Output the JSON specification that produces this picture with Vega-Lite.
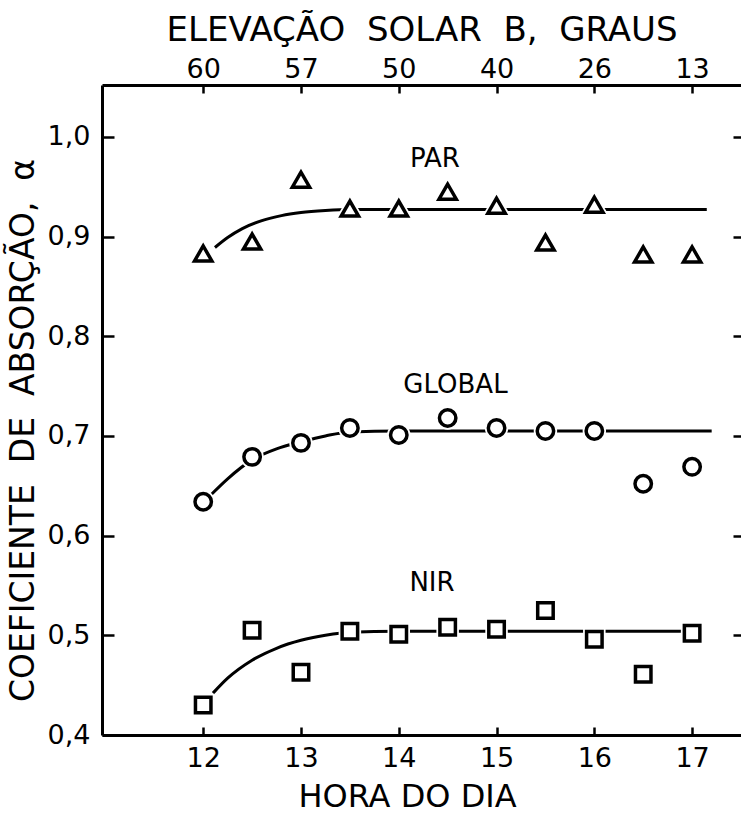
{
  "$schema": "https://vega.github.io/schema/vega-lite/v6.json",
  "width": 639,
  "height": 650,
  "autosize": {"type": "none"},
  "padding": {"left": 102, "top": 85, "right": 0, "bottom": 81},
  "background": "white",
  "config": {
    "view": {"stroke": null},
    "font": "DejaVu Sans",
    "axis": {"grid": false, "domainColor": "black", "tickColor": "black", "labelColor": "black", "titleColor": "black", "labelFont": "DejaVu Sans", "titleFont": "DejaVu Sans", "titleFontWeight": "normal", "domainWidth": 3, "tickWidth": 2.5}
  },
  "resolve": {"axis": {"x": "independent", "y": "independent"}},
  "datasets": {
    "obs": [
      {"series": "PAR", "h": 12.0, "v": 0.883},
      {"series": "PAR", "h": 12.5, "v": 0.895},
      {"series": "PAR", "h": 13.0, "v": 0.957},
      {"series": "PAR", "h": 13.5, "v": 0.928},
      {"series": "PAR", "h": 14.0, "v": 0.928},
      {"series": "PAR", "h": 14.5, "v": 0.945},
      {"series": "PAR", "h": 15.0, "v": 0.931},
      {"series": "PAR", "h": 15.5, "v": 0.894},
      {"series": "PAR", "h": 16.0, "v": 0.932},
      {"series": "PAR", "h": 16.5, "v": 0.882},
      {"series": "PAR", "h": 17.0, "v": 0.882},
      {"series": "GLOBAL", "h": 12.0, "v": 0.634},
      {"series": "GLOBAL", "h": 12.5, "v": 0.679},
      {"series": "GLOBAL", "h": 13.0, "v": 0.693},
      {"series": "GLOBAL", "h": 13.5, "v": 0.708},
      {"series": "GLOBAL", "h": 14.0, "v": 0.701},
      {"series": "GLOBAL", "h": 14.5, "v": 0.718},
      {"series": "GLOBAL", "h": 15.0, "v": 0.708},
      {"series": "GLOBAL", "h": 15.5, "v": 0.705},
      {"series": "GLOBAL", "h": 16.0, "v": 0.705},
      {"series": "GLOBAL", "h": 16.5, "v": 0.652},
      {"series": "GLOBAL", "h": 17.0, "v": 0.669},
      {"series": "NIR", "h": 12.0, "v": 0.43},
      {"series": "NIR", "h": 12.5, "v": 0.505},
      {"series": "NIR", "h": 13.0, "v": 0.463},
      {"series": "NIR", "h": 13.5, "v": 0.504},
      {"series": "NIR", "h": 14.0, "v": 0.501},
      {"series": "NIR", "h": 14.5, "v": 0.508},
      {"series": "NIR", "h": 15.0, "v": 0.506},
      {"series": "NIR", "h": 15.5, "v": 0.525},
      {"series": "NIR", "h": 16.0, "v": 0.496},
      {"series": "NIR", "h": 16.5, "v": 0.461},
      {"series": "NIR", "h": 17.0, "v": 0.502}
    ],
    "fit": [
      {"series": "PAR", "h": 12.12, "v": 0.889},
      {"series": "PAR", "h": 12.25, "v": 0.899},
      {"series": "PAR", "h": 12.4, "v": 0.908},
      {"series": "PAR", "h": 12.6, "v": 0.916},
      {"series": "PAR", "h": 12.8, "v": 0.921},
      {"series": "PAR", "h": 13.0, "v": 0.924},
      {"series": "PAR", "h": 13.25, "v": 0.926},
      {"series": "PAR", "h": 13.5, "v": 0.927},
      {"series": "PAR", "h": 14.0, "v": 0.927},
      {"series": "PAR", "h": 15.0, "v": 0.927},
      {"series": "PAR", "h": 16.0, "v": 0.927},
      {"series": "PAR", "h": 17.15, "v": 0.927},
      {"series": "GLOBAL", "h": 12.08, "v": 0.641},
      {"series": "GLOBAL", "h": 12.25, "v": 0.657},
      {"series": "GLOBAL", "h": 12.5, "v": 0.676},
      {"series": "GLOBAL", "h": 12.75, "v": 0.687},
      {"series": "GLOBAL", "h": 13.0, "v": 0.694},
      {"series": "GLOBAL", "h": 13.25, "v": 0.7},
      {"series": "GLOBAL", "h": 13.5, "v": 0.704},
      {"series": "GLOBAL", "h": 14.0, "v": 0.705},
      {"series": "GLOBAL", "h": 15.0, "v": 0.705},
      {"series": "GLOBAL", "h": 16.0, "v": 0.705},
      {"series": "GLOBAL", "h": 17.2, "v": 0.705},
      {"series": "NIR", "h": 12.1, "v": 0.442},
      {"series": "NIR", "h": 12.25, "v": 0.457},
      {"series": "NIR", "h": 12.5, "v": 0.475},
      {"series": "NIR", "h": 12.75, "v": 0.487},
      {"series": "NIR", "h": 13.0, "v": 0.495},
      {"series": "NIR", "h": 13.25, "v": 0.5},
      {"series": "NIR", "h": 13.5, "v": 0.503},
      {"series": "NIR", "h": 14.0, "v": 0.504},
      {"series": "NIR", "h": 15.0, "v": 0.504},
      {"series": "NIR", "h": 16.0, "v": 0.504},
      {"series": "NIR", "h": 17.0, "v": 0.504}
    ],
    "labels": [
      {"t": "PAR", "h": 14.37, "v": 0.978},
      {"t": "GLOBAL", "h": 14.58, "v": 0.751},
      {"t": "NIR", "h": 14.34, "v": 0.552}
    ]
  },
  "layer": [
    {
      "data": {"name": "fit"},
      "mark": {"type": "line", "interpolate": "monotone", "color": "black", "strokeWidth": 3},
      "encoding": {
        "x": {"field": "h", "type": "quantitative", "scale": {"domain": [10.965, 17.5], "nice": false, "zero": false},
          "axis": {"orient": "bottom", "values": [12, 13, 14, 15, 16, 17], "tickSize": -8, "labelFontSize": 27, "labelPadding": 18, "title": "HORA\u00a0DO\u00a0DIA", "titleFontSize": 32, "titlePadding": 10, "titleX": 305}},
        "y": {"field": "v", "type": "quantitative", "scale": {"domain": [0.4, 1.052], "nice": false, "zero": false},
          "axis": {"orient": "left", "values": [0.4, 0.5, 0.6, 0.7, 0.8, 0.9, 1.0], "labelExpr": "replace(format(datum.value, '.1f'), '.', ',')", "tickSize": -12, "labelFontSize": 27, "labelPadding": 24, "title": "COEFICIENTE\u00a0\u00a0DE\u00a0\u00a0ABSORÇÃO,\u00a0\u00a0α", "titleFontSize": 33, "titlePadding": 7, "titleY": 345}},
        "detail": {"field": "series"}
      }
    },
    {
      "data": {"name": "obs"},
      "mark": {"type": "point", "filled": true, "fill": "white", "stroke": "white", "strokeWidth": 7, "opacity": 1},
      "encoding": {
        "x": {"field": "h", "type": "quantitative",
          "axis": {"orient": "top", "values": [12, 13, 14, 15, 16, 17], "labelExpr": "{'12':'60','13':'57','14':'50','15':'40','16':'26','17':'13'}[datum.value + '']", "tickSize": -8, "labelFontSize": 27, "labelPadding": 10, "title": "ELEVAÇÃO\u00a0\u00a0SOLAR\u00a0\u00a0B,\u00a0\u00a0GRAUS", "titleFontSize": 34, "titlePadding": 8}},
        "y": {"field": "v", "type": "quantitative",
          "axis": {"orient": "right", "values": [0.5, 0.6, 0.7, 0.8, 0.9, 1.0], "labels": false, "domain": false, "tickSize": -8, "title": null}},
        "shape": {"field": "series", "type": "nominal", "scale": {"domain": ["PAR", "GLOBAL", "NIR"], "range": ["triangle-up", "circle", "square"]}, "legend": null},
        "size": {"field": "series", "type": "nominal", "scale": {"domain": ["PAR", "GLOBAL", "NIR"], "range": [300, 240, 170]}, "legend": null}
      }
    },
    {
      "data": {"name": "obs"},
      "mark": {"type": "point", "filled": false, "stroke": "black", "strokeWidth": 3.5, "opacity": 1},
      "encoding": {
        "x": {"field": "h", "type": "quantitative", "axis": null},
        "y": {"field": "v", "type": "quantitative", "axis": null},
        "shape": {"field": "series", "type": "nominal", "scale": {"domain": ["PAR", "GLOBAL", "NIR"], "range": ["triangle-up", "circle", "square"]}, "legend": null},
        "size": {"field": "series", "type": "nominal", "scale": {"domain": ["PAR", "GLOBAL", "NIR"], "range": [300, 240, 170]}, "legend": null}
      }
    },
    {
      "data": {"name": "labels"},
      "mark": {"type": "text", "fontSize": 26, "font": "DejaVu Sans", "color": "black", "align": "center", "baseline": "middle"},
      "encoding": {
        "x": {"field": "h", "type": "quantitative", "axis": null},
        "y": {"field": "v", "type": "quantitative", "axis": null},
        "text": {"field": "t"}
      }
    }
  ]
}
